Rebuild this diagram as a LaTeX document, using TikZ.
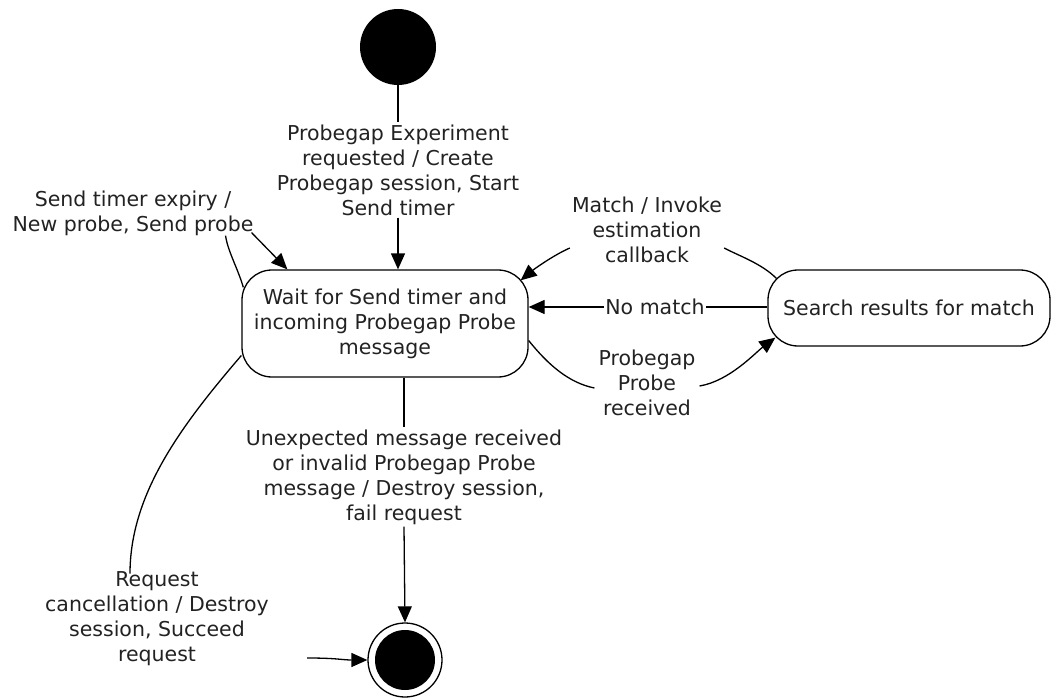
\documentclass[tikz,border=0pt]{standalone}
\usepackage{fontspec}
\setmainfont{DejaVu Sans}
\usetikzlibrary{arrows.meta,calc}
\definecolor{txt}{HTML}{222222}
\begin{document}
\begin{tikzpicture}[x=1pt,y=-1pt,
  every node/.style={font=\fontsize{20.5}{25}\selectfont,text=txt},
  lbl/.style={align=center,inner sep=2pt},
  statebox/.style={draw,line width=1.3pt,rounded corners=30pt,align=center,inner sep=0pt},
  conn/.style={line width=1.3pt},
  arr/.style={conn,-{Triangle[length=16pt,width=14pt]}}]
\useasboundingbox (0,0) rectangle (1053,698);
% states
\node[circle,fill=black,minimum size=76pt,inner sep=0pt] (init) at (398,47) {};
\node[statebox,minimum width=286pt,minimum height=107pt] (wait) at (385,323.5)
  {Wait for Send timer and\\incoming Probegap Probe\\message};
\node[statebox,minimum width=282pt,minimum height=76pt] (search) at (909,308)
  {Search results for match};
\node[circle,draw,line width=1.3pt,minimum size=74pt,inner sep=0pt] (final) at (405,660) {};
\fill (final.center) circle[radius=30pt];
% labels
\node[lbl] (lab1) at (398,170) {Probegap Experiment\\requested / Create\\Probegap session, Start\\Send timer};
\node[lbl] (labSend) at (133,213) {Send timer expiry /\\New probe, Send probe};
\node[lbl] (labMatch) at (647,230) {Match / Invoke\\estimation\\callback};
\node[lbl,inner sep=1pt] (labNM) at (655,307) {No match};
\node[lbl] (labProbe) at (647,383) {Probegap\\Probe\\received};
\node[lbl] (labUnexp) at (404,477) {Unexpected message received\\or invalid Probegap Probe\\message / Destroy session,\\fail request};
\node[lbl] (labReq) at (157,619) {Request\\cancellation / Destroy\\session, Succeed\\request};
% connectors
\draw[conn] (init.south) -- (lab1.north);
\draw[arr] (lab1.south) -- ($(wait.north)+(13,0)$);
\draw[conn] ($(wait.north west)+(2,18)$) .. controls +(-6,-20) and +(2,15) .. ($(labSend.south east)+(-30,-2)$);
\draw[arr] ($(labSend.south east)+(-4,-5)$) -- ($(wait.north west)+(46,0)$);
\draw[conn] ($(search.north west)+(9,9)$) .. controls +(-15,-15) and +(15,8) .. ($(labMatch.east)+(0,18)$);
\draw[arr] ($(labMatch.west)+(0,18)$) .. controls +(-18,8) and +(12,-10) .. ($(wait.north east)+(-8,11)$);
\draw[conn] (labNM.east -| search.west) -- (labNM.east);
\draw[arr] (labNM.west) -- (labNM.west -| wait.east);
\draw[conn] ($(wait.east)+(0,17)$) .. controls +(20,25) and +(-25,-5) .. ($(labProbe.west)+(-2,5)$);
\draw[arr] ($(labProbe.east)+(2,3)$) .. controls +(30,-5) and +(-20,15) .. ($(search.south west)+(8,-9)$);
\draw[conn] ($(wait.south)+(19,0)$) -- (labUnexp.north);
\draw[arr] (labUnexp.south) -- (final.north);
\draw[conn] ($(wait.west)+(0,32)$) .. controls +(-60,70) and +(0,-80) .. ($(labReq.north)+(-27,4)$);
\draw[arr] ($(labReq.east)+(36,39)$) .. controls +(30,0) and +(-25,0) .. (final.west);
\end{tikzpicture}
\end{document}
